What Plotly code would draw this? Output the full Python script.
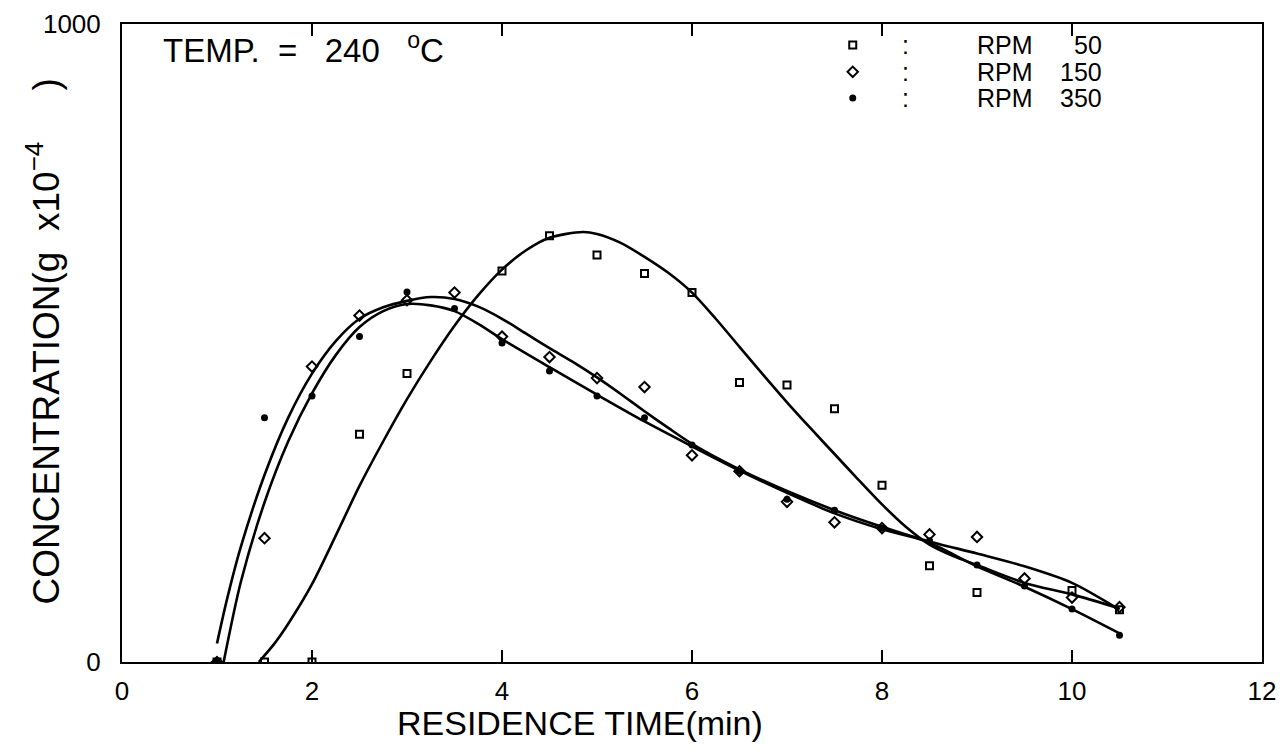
import plotly.graph_objects as go

# ---- measured data points ----
rpm50_x = [1.0, 1.5, 2.0, 2.5, 3.0, 4.0, 4.5, 5.0, 5.5, 6.0, 6.5, 7.0, 7.5, 8.0, 8.5, 9.0, 10.0, 10.5]
rpm50_y = [0, 0, 0, 357, 452, 613, 668, 638, 609, 579, 438, 434, 397, 277, 151, 109, 112, 82]

rpm150_x = [1.0, 1.5, 2.0, 2.5, 3.0, 3.5, 4.0, 4.5, 5.0, 5.5, 6.0, 6.5, 7.0, 7.5, 8.0, 8.5, 9.0, 9.5, 10.0, 10.5]
rpm150_y = [0, 194, 463, 543, 567, 579, 510, 478, 445, 431, 324, 299, 251, 219, 210, 200, 196, 131, 101, 86]

rpm350_x = [1.0, 1.5, 2.0, 2.5, 3.0, 3.5, 4.0, 4.5, 5.0, 5.5, 6.0, 6.5, 7.0, 7.5, 8.0, 8.5, 9.0, 9.5, 10.0, 10.5]
rpm350_y = [0, 383, 417, 510, 580, 554, 500, 456, 417, 383, 340, 299, 255, 238, 210, 190, 152, 119, 83, 42]

# ---- fitted curves ----
fit50_x = [1.44, 1.6, 1.75, 2.0, 2.25, 2.5, 2.75, 3.0, 3.25, 3.5, 3.75, 4.0, 4.25, 4.5, 4.85, 5.0, 5.25,
           5.5, 5.75, 6.0, 6.25, 6.5, 6.75, 7.0, 7.25, 7.5, 7.75, 8.0, 8.25, 8.5, 8.75, 9.0, 9.5, 10.0, 10.5]
fit50_y = [0, 28, 60, 122, 198, 276, 346, 412, 472, 527, 575, 615, 645, 665, 674, 671, 657,
           635, 610, 579, 538, 494, 450, 407, 366, 326, 286, 247, 212, 184, 166, 152, 124, 106, 84]

fit150_x = [1.0, 1.1, 1.25, 1.5, 1.75, 2.0, 2.25, 2.5, 2.75, 3.0, 3.25, 3.5, 3.75, 4.0, 4.25, 4.5, 4.75,
            5.0, 5.25, 5.5, 5.75, 6.0, 6.5, 7.0, 7.5, 8.0, 8.45, 9.0, 9.5, 10.0, 10.5]
fit150_y = [29, 95, 180, 293, 383, 452, 503, 538, 556, 566, 572, 569, 557, 538, 515, 492, 470,
            446, 420, 393, 367, 342, 302, 268, 238, 212, 191, 170, 150, 124, 82]

fit350_x = [1.07, 1.25, 1.5, 1.75, 2.0, 2.25, 2.5, 2.75, 3.0, 3.25, 3.5, 3.75, 4.0, 4.5, 5.0, 5.5,
            6.0, 6.5, 7.0, 7.5, 8.0, 8.45, 9.0, 9.5, 10.0, 10.5]
fit350_y = [0, 125, 250, 346, 421, 481, 525, 550, 561, 559, 550, 530, 506, 462, 419, 377,
            338, 300, 265, 233, 208, 190, 150, 118, 83, 45]

x_ticks = [0, 2, 4, 6, 8, 10, 12]
y_ticks = [0, 1000]

legend_rpm = ["50", "150", "350"]
legend_rows_y = [0.967, 0.925, 0.884]   # legend row positions (fraction of plot height)

FONT = "Liberation Sans"
fig = go.Figure()

line_style = dict(color="black", width=2.6, shape="spline", smoothing=0.8)
for fx, fy in [(fit50_x, fit50_y), (fit150_x, fit150_y), (fit350_x, fit350_y)]:
    fig.add_trace(go.Scatter(x=fx, y=fy, mode="lines", line=line_style,
                             showlegend=False, hoverinfo="skip"))

marker_styles = [
    dict(symbol="square-open", size=7, color="black", line=dict(width=2, color="black")),
    dict(symbol="diamond-open", size=8, color="black", line=dict(width=2, color="black")),
    dict(symbol="circle", size=7, color="black"),
]
for (sx, sy), ms in zip([(rpm50_x, rpm50_y), (rpm150_x, rpm150_y), (rpm350_x, rpm350_y)], marker_styles):
    fig.add_trace(go.Scatter(x=sx, y=sy, mode="markers", marker=ms, showlegend=False))

# legend key symbols on an overlay axis spanning the plot area (0..1)
for ms, ly in zip(marker_styles, legend_rows_y):
    fig.add_trace(go.Scatter(x=[0.641], y=[ly], mode="markers", marker=ms,
                             xaxis="x2", yaxis="y2", showlegend=False, hoverinfo="skip"))

annotations = [
    dict(text="RESIDENCE TIME(min)", xref="paper", yref="paper",
         x=0.402, y=-0.095, xanchor="center", yanchor="middle",
         showarrow=False, font=dict(size=34, family=FONT)),
    dict(text="CONCENTRATION(g  x10<sup>−4</sup>     )", xref="paper", yref="paper",
         x=-0.069, y=0.503, xanchor="center", yanchor="middle", textangle=-90,
         showarrow=False, font=dict(size=37, family=FONT)),
    dict(text="TEMP.  =   240   <sup>o</sup>C", xref="paper", yref="paper",
         x=0.034, y=0.962, xanchor="left", yanchor="middle",
         showarrow=False, font=dict(size=33, family=FONT)),
]
for r, ly in zip(legend_rpm, legend_rows_y):
    annotations.append(dict(text=":", xref="paper", yref="paper", x=0.687, y=ly,
                            xanchor="center", yanchor="middle", showarrow=False,
                            font=dict(size=25, family=FONT)))
    annotations.append(dict(text="RPM", xref="paper", yref="paper", x=0.748, y=ly,
                            xanchor="left", yanchor="middle", showarrow=False,
                            font=dict(size=25, family=FONT)))
    annotations.append(dict(text=r, xref="paper", yref="paper", x=0.861, y=ly,
                            xanchor="right", yanchor="middle", showarrow=False,
                            font=dict(size=25, family=FONT)))

fig.update_layout(
    width=1270, height=737,
    margin=dict(l=114, r=16, t=16, b=83, autoexpand=False),
    paper_bgcolor="white", plot_bgcolor="white",
    font=dict(family=FONT, color="black", size=26),
    showlegend=False,
    xaxis=dict(range=[0, 12], tickvals=x_ticks, ticktext=[str(v) for v in x_ticks],
               showgrid=False, zeroline=False, showline=True, linecolor="black",
               linewidth=2, mirror="ticks", ticks="inside", ticklen=12, tickwidth=2,
               tickcolor="black", ticklabelstandoff=5, tickfont=dict(size=26),
               automargin=False),
    yaxis=dict(range=[0, 1000], tickvals=y_ticks, ticktext=[str(v) for v in y_ticks],
               showgrid=False, zeroline=False, showline=True, linecolor="black",
               linewidth=2, mirror=True, ticks="", ticklabelstandoff=14,
               tickfont=dict(size=26), automargin=False),
    xaxis2=dict(overlaying="x", range=[0, 1], visible=False),
    yaxis2=dict(overlaying="y", range=[0, 1], visible=False),
    annotations=annotations,
)

fig.write_html("out.html")
